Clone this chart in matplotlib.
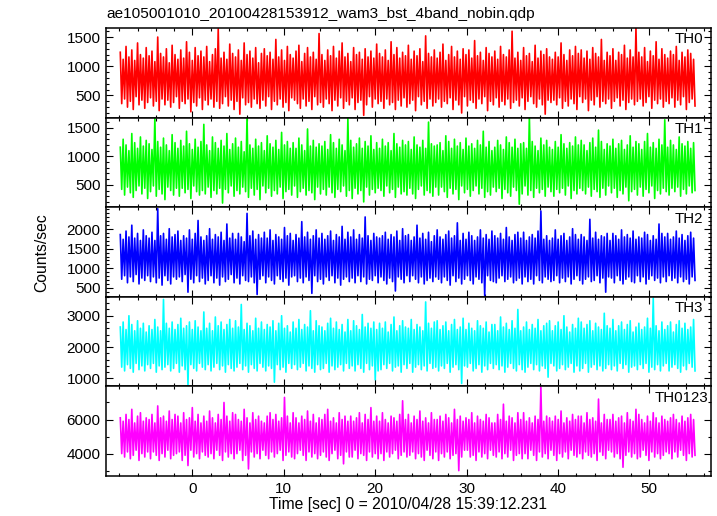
import matplotlib

matplotlib.use("Agg")

import matplotlib.pyplot as plt
import numpy as np
from matplotlib.ticker import MultipleLocator

TITLE = "ae105001010_20100428153912_wam3_bst_4band_nobin.qdp"
XLABEL = "Time [sec] 0 = 2010/04/28 15:39:12.231"
YLABEL = "Counts/sec"
T_START, T_END = -7.9, 55.0

# Light-curve samples, left to right (alternating
# upper / lower excursions of the dense trace). Stored as small integers;
# the unit (counts/sec per step) is given per band in `units`.
th0 = [
    62, 18, 56, 22, 67, 15, 58, 20, 64, 13, 55, 24, 70, 17, 60, 21, 57, 14, 66, 19,
    59, 23, 63, 16, 54, 20, 75, 12, 61, 22, 58, 17, 65, 21, 53, 15, 68, 19, 60, 24,
    56, 14, 64, 20, 57, 18, 71, 22, 62, 11, 55, 19, 66, 16, 59, 23, 63, 13, 58, 21,
    67, 17, 54, 22, 60, 15, 65, 20, 82, 14, 57, 18, 62, 24, 56, 16, 69, 21, 61, 13,
    58, 20, 64, 9, 55, 23, 70, 17, 60, 19, 63, 15, 57, 22, 66, 18, 53, 14, 61, 21,
    65, 16, 59, 24, 62, 13, 56, 20, 73, 17, 58, 22, 64, 15, 55, 19, 67, 12, 60, 23,
    57, 21, 63, 18, 68, 14, 54, 22, 61, 16, 66, 20, 58, 13, 62, 24, 56, 17, 78, 19,
    60, 15, 55, 22, 64, 18, 59, 12, 67, 21, 57, 16, 63, 23, 70, 14, 58, 20, 61, 17,
    54, 23, 66, 13, 60, 19, 62, 21, 56, 8, 65, 17, 58, 24, 63, 15, 57, 22, 69, 18,
    61, 20, 58, 14, 64, 22, 55, 17, 71, 19, 60, 13, 66, 21, 57, 16, 62, 23, 59, 15,
    68, 18, 56, 21, 63, 12, 59, 24, 65, 17, 54, 20, 76, 14, 61, 22, 58, 16, 64, 19,
    57, 22, 62, 15, 69, 20, 55, 18, 60, 23, 67, 13, 58, 21, 63, 17, 56, 10, 65, 24,
    60, 16, 64, 21, 57, 19, 72, 14, 59, 22, 62, 18, 55, 24, 66, 12, 61, 20, 58, 17,
    63, 23, 56, 15, 67, 20, 60, 17, 58, 22, 64, 14, 80, 19, 57, 21, 62, 16, 55, 23,
    66, 13, 59, 20, 61, 24, 54, 18, 68, 15, 57, 22, 63, 17, 60, 9, 65, 21, 58, 19,
    56, 21, 62, 17, 58, 23, 70, 14, 60, 20, 55, 16, 64, 22, 59, 18, 67, 13, 61, 24,
    64, 19, 57, 22, 63, 12, 56, 21, 66, 17, 61, 24, 58, 15, 73, 20, 55, 18, 62, 22,
    59, 14, 65, 20, 55, 23, 62, 16, 60, 21, 68, 13, 57, 19, 64, 22, 58, 17, 83, 20,
    62, 22, 58, 16, 66, 19, 54, 24, 63, 14, 59, 21, 71, 18, 56, 22, 65, 15, 60, 20,
    57, 18, 63, 23, 60, 15, 67, 21, 55, 17, 62, 24, 58, 13, 64, 19, 61, 22, 56, 16,
]
th1 = [
    58, 21, 65, 16, 60, 23, 55, 18, 70, 14, 62, 20, 57, 24, 67, 17, 59, 22, 64, 13,
    61, 19, 56, 24, 84, 15, 63, 21, 58, 17, 66, 12, 60, 23, 55, 20, 69, 16, 62, 22,
    57, 15, 64, 22, 59, 18, 72, 21, 61, 13, 56, 24, 65, 19, 58, 16, 63, 20, 78, 17,
    60, 23, 55, 14, 67, 20, 62, 17, 57, 22, 64, 9, 59, 21, 70, 18, 56, 24, 61, 15,
    66, 20, 58, 17, 63, 23, 54, 19, 85, 14, 60, 22, 57, 16, 65, 21, 59, 12, 62, 24,
    55, 18, 68, 22, 61, 15, 58, 20, 64, 17, 56, 23, 71, 13, 60, 19, 63, 21, 57, 16,
    62, 24, 57, 14, 66, 19, 60, 22, 55, 16, 74, 20, 59, 18, 64, 12, 58, 23, 61, 17,
    59, 21, 63, 16, 56, 23, 69, 18, 62, 14, 57, 21, 65, 19, 60, 24, 55, 15, 83, 20,
    64, 13, 58, 22, 61, 17, 66, 20, 57, 10, 63, 23, 59, 16, 68, 21, 56, 18, 62, 22,
    57, 20, 65, 15, 59, 24, 62, 18, 55, 21, 70, 14, 61, 23, 58, 17, 64, 19, 60, 16,
    63, 22, 56, 17, 67, 13, 60, 21, 58, 24, 64, 16, 57, 20, 80, 18, 61, 15, 59, 23,
    60, 16, 62, 23, 55, 19, 68, 14, 63, 22, 57, 17, 65, 21, 59, 12, 62, 24, 56, 18,
    66, 21, 59, 15, 61, 20, 57, 24, 64, 17, 60, 22, 72, 14, 58, 19, 63, 16, 55, 23,
    58, 19, 64, 22, 60, 13, 56, 21, 67, 18, 62, 15, 58, 23, 65, 20, 57, 8, 61, 17,
    62, 24, 57, 16, 85, 20, 63, 14, 59, 22, 55, 18, 66, 21, 60, 15, 64, 23, 58, 19,
    56, 15, 63, 21, 58, 18, 69, 22, 61, 16, 57, 24, 62, 13, 59, 20, 67, 17, 60, 22,
    64, 20, 60, 17, 55, 23, 62, 15, 66, 21, 58, 19, 73, 14, 63, 22, 56, 16, 61, 24,
    59, 18, 65, 22, 57, 14, 61, 20, 64, 17, 56, 23, 60, 11, 68, 19, 58, 21, 63, 16,
    61, 23, 56, 15, 63, 21, 70, 18, 58, 24, 62, 13, 57, 20, 65, 17, 60, 22, 82, 19,
    58, 16, 64, 22, 60, 19, 56, 23, 67, 15, 61, 21, 59, 17, 63, 24, 57, 18, 62, 20,
]
th2 = [
    62, 24, 58, 27, 65, 21, 60, 26, 70, 22, 59, 28, 63, 20, 57, 25, 66, 23, 61, 27,
    59, 22, 64, 26, 57, 21, 84, 25, 61, 19, 63, 27, 58, 23, 67, 20, 60, 26, 62, 24,
    65, 26, 57, 22, 61, 28, 59, 13, 66, 24, 58, 21, 63, 27, 74, 22, 60, 25, 57, 20,
    61, 23, 67, 27, 58, 21, 62, 25, 60, 19, 64, 26, 57, 22, 71, 24, 59, 28, 63, 21,
    58, 25, 63, 20, 60, 27, 56, 23, 80, 22, 61, 26, 65, 21, 58, 11, 62, 24, 59, 27,
    64, 21, 59, 26, 66, 23, 57, 20, 62, 27, 60, 24, 58, 22, 68, 25, 61, 19, 63, 26,
    57, 27, 62, 22, 59, 25, 73, 21, 60, 26, 64, 23, 58, 12, 61, 27, 66, 22, 59, 24,
    63, 20, 58, 26, 61, 23, 65, 27, 57, 21, 62, 25, 60, 19, 69, 24, 58, 26, 64, 22,
    60, 25, 66, 21, 58, 27, 62, 22, 59, 26, 77, 20, 61, 24, 57, 23, 63, 27, 60, 21,
    59, 26, 61, 23, 64, 20, 58, 25, 62, 22, 60, 14, 65, 26, 57, 24, 67, 21, 61, 27,
    62, 22, 57, 27, 60, 24, 70, 21, 59, 26, 63, 20, 58, 23, 64, 25, 56, 22, 61, 26,
    66, 24, 60, 21, 58, 26, 62, 23, 65, 19, 59, 27, 61, 22, 72, 25, 57, 20, 63, 24,
    58, 27, 64, 23, 61, 20, 57, 26, 60, 24, 66, 21, 59, 10, 62, 27, 58, 23, 65, 22,
    61, 21, 59, 25, 63, 27, 58, 22, 68, 24, 60, 26, 57, 21, 62, 23, 64, 25, 59, 20,
    64, 26, 57, 22, 60, 24, 62, 20, 59, 27, 65, 23, 82, 21, 58, 26, 61, 24, 57, 22,
    59, 23, 66, 27, 58, 21, 61, 25, 63, 22, 57, 26, 60, 20, 67, 24, 62, 27, 58, 23,
    62, 20, 60, 24, 57, 26, 75, 22, 59, 23, 64, 27, 58, 21, 61, 25, 60, 13, 63, 26,
    57, 25, 63, 21, 61, 27, 58, 23, 66, 20, 60, 24, 62, 26, 59, 22, 65, 21, 58, 27,
    60, 22, 59, 26, 64, 20, 62, 24, 57, 27, 61, 23, 58, 25, 71, 21, 63, 26, 60, 22,
    63, 27, 58, 23, 60, 25, 65, 21, 59, 26, 62, 22, 57, 24, 61, 20, 64, 26, 59, 23,
]
th3 = [
    66, 34, 70, 31, 64, 36, 75, 33, 68, 30, 63, 37, 71, 32, 65, 35, 69, 31, 62, 36,
    67, 33, 64, 37, 72, 30, 66, 35, 63, 32, 88, 34, 69, 36, 65, 31, 70, 33, 64, 37,
    68, 30, 73, 35, 65, 32, 67, 20, 70, 36, 64, 33, 71, 31, 66, 37, 63, 34, 78, 32,
    65, 36, 69, 31, 63, 34, 74, 37, 67, 32, 70, 35, 64, 30, 68, 36, 72, 33, 65, 31,
    71, 34, 66, 37, 84, 32, 64, 35, 69, 30, 67, 36, 63, 33, 73, 31, 65, 37, 70, 34,
    64, 31, 68, 35, 66, 33, 71, 22, 63, 36, 69, 32, 75, 34, 65, 30, 67, 37, 62, 33,
    70, 36, 65, 32, 72, 34, 64, 37, 68, 31, 66, 35, 79, 33, 63, 30, 71, 36, 67, 32,
    66, 33, 63, 37, 69, 30, 73, 35, 65, 32, 70, 34, 64, 36, 68, 31, 62, 37, 72, 33,
    63, 35, 71, 31, 67, 36, 64, 33, 76, 30, 66, 37, 69, 32, 65, 35, 70, 24, 64, 31,
    69, 32, 65, 36, 70, 33, 62, 37, 68, 31, 74, 34, 63, 35, 67, 30, 71, 36, 66, 33,
    65, 37, 72, 30, 64, 34, 68, 36, 66, 32, 63, 35, 86, 31, 69, 37, 65, 33, 70, 34,
    71, 31, 64, 35, 67, 33, 70, 37, 63, 30, 68, 34, 72, 36, 64, 32, 66, 21, 73, 35,
    64, 34, 69, 37, 65, 31, 63, 33, 71, 36, 67, 30, 65, 35, 70, 32, 62, 37, 68, 33,
    68, 36, 63, 32, 74, 35, 66, 30, 69, 34, 64, 37, 71, 33, 65, 31, 80, 36, 63, 32,
    66, 30, 70, 34, 64, 37, 68, 32, 65, 36, 72, 31, 63, 35, 67, 33, 69, 26, 71, 37,
    63, 35, 67, 31, 70, 33, 64, 36, 75, 32, 66, 34, 62, 37, 68, 30, 65, 35, 73, 31,
    70, 33, 65, 37, 68, 30, 71, 34, 63, 36, 69, 32, 66, 35, 64, 31, 77, 33, 67, 36,
    65, 32, 72, 35, 63, 31, 67, 37, 70, 33, 64, 36, 68, 30, 71, 34, 62, 35, 66, 32,
    69, 36, 64, 33, 66, 37, 73, 30, 65, 34, 89, 32, 67, 36, 63, 31, 70, 35, 64, 37,
    67, 31, 70, 34, 62, 36, 68, 33, 71, 30, 65, 35, 69, 32, 64, 37, 66, 34, 72, 31,
]
th0123 = [
    61, 40, 59, 38, 63, 41, 60, 37, 66, 39, 58, 42, 62, 36, 64, 40, 59, 38, 61, 41,
    60, 37, 63, 41, 58, 39, 68, 36, 61, 40, 62, 38, 59, 42, 65, 37, 60, 39, 63, 40,
    62, 41, 58, 36, 64, 39, 60, 33, 61, 42, 67, 38, 59, 40, 63, 37, 58, 41, 62, 39,
    59, 38, 65, 40, 61, 37, 58, 42, 63, 39, 60, 36, 70, 41, 62, 38, 59, 40, 64, 37,
    63, 40, 60, 42, 59, 36, 66, 39, 61, 31, 58, 41, 64, 38, 60, 40, 62, 37, 59, 42,
    58, 39, 62, 37, 64, 41, 60, 38, 63, 40, 59, 42, 61, 36, 73, 39, 62, 41, 58, 38,
    64, 37, 61, 40, 58, 42, 62, 39, 60, 36, 65, 41, 59, 38, 63, 40, 58, 37, 61, 39,
    60, 41, 63, 38, 66, 36, 59, 40, 61, 42, 58, 37, 64, 39, 60, 34, 62, 41, 59, 38,
    62, 38, 59, 42, 61, 37, 64, 40, 58, 39, 63, 36, 60, 41, 67, 38, 59, 40, 62, 37,
    59, 40, 64, 36, 60, 41, 58, 38, 62, 40, 61, 42, 59, 37, 63, 39, 71, 41, 60, 38,
    63, 39, 58, 41, 62, 37, 60, 40, 65, 38, 59, 36, 61, 42, 58, 39, 64, 37, 60, 41,
    60, 36, 62, 40, 59, 38, 63, 41, 61, 37, 58, 39, 66, 40, 60, 30, 62, 38, 59, 42,
    61, 42, 60, 38, 64, 39, 58, 36, 62, 41, 60, 38, 59, 40, 63, 37, 61, 42, 58, 39,
    58, 38, 63, 41, 60, 37, 69, 40, 59, 38, 62, 42, 61, 36, 58, 39, 64, 40, 60, 37,
    64, 40, 59, 37, 61, 42, 58, 39, 62, 36, 60, 41, 79, 38, 59, 40, 62, 37, 61, 42,
    59, 39, 62, 36, 60, 40, 65, 38, 58, 41, 61, 37, 59, 42, 63, 39, 60, 38, 62, 40,
    62, 37, 58, 41, 64, 39, 60, 38, 61, 40, 59, 36, 72, 41, 58, 39, 63, 37, 60, 42,
    60, 41, 63, 38, 59, 40, 61, 37, 62, 32, 58, 39, 64, 41, 60, 38, 59, 40, 66, 37,
    63, 38, 60, 42, 58, 39, 62, 36, 59, 41, 64, 38, 61, 40, 58, 37, 62, 39, 60, 41,
    59, 40, 61, 37, 63, 41, 60, 38, 58, 42, 62, 39, 59, 36, 61, 40, 63, 38, 60, 39,
]

bands = ["TH0", "TH1", "TH2", "TH3", "TH0123"]
series = [th0, th1, th2, th3, th0123]
units = [20, 20, 30, 40, 100]  # counts/sec per integer step of each list
colors = ["#ff0000", "#00ff00", "#0000ff", "#00ffff", "#ff00ff"]
ylims = [(121, 1655), (107, 1679), (272, 2558), (746, 3603), (2686, 7943)]
yticks = [
    [500, 1000, 1500],
    [500, 1000, 1500],
    [500, 1000, 1500, 2000],
    [1000, 2000, 3000],
    [4000, 6000],
]
yminor = [100, 100, 100, 200, 1000]
label_x = [0.988, 0.988, 0.988, 0.988, 0.997]

plt.rcParams["font.family"] = ["Liberation Sans", "DejaVu Sans"]

fig, axes = plt.subplots(5, 1, sharex=True, figsize=(7.17, 5.16), dpi=100)
fig.subplots_adjust(left=0.148, right=0.991, top=0.9457, bottom=0.0775, hspace=0)

for ax, name, vals, unit, col, ylim, yt, ym, lx in zip(
    axes, bands, series, units, colors, ylims, yticks, yminor, label_x
):
    rate = np.asarray(vals, dtype=float) * unit
    t = np.linspace(T_START, T_END, len(rate))
    ax.plot(t, rate, color=col, linewidth=1.2)
    ax.set_ylim(*ylim)
    ax.set_yticks(yt)
    ax.yaxis.set_minor_locator(MultipleLocator(ym))
    ax.xaxis.set_major_locator(MultipleLocator(10))
    ax.xaxis.set_minor_locator(MultipleLocator(2))
    ax.tick_params(which="both", direction="in", top=True, right=True,
                   labelsize=11, width=0.8, pad=4)
    ax.tick_params(which="major", length=5)
    ax.tick_params(which="minor", length=2.5)
    for sp in ax.spines.values():
        sp.set_linewidth(1.1)
    ax.text(lx, 0.95, name, transform=ax.transAxes, ha="right", va="top", fontsize=10.8)

axes[-1].set_xlim(-9.45, 56.7)
axes[-1].set_xlabel(XLABEL, fontsize=11.3, labelpad=1)
fig.text(0.058, 0.51, YLABEL, rotation=90, ha="center", va="center", fontsize=11.3)
fig.text(0.149, 0.96, TITLE, ha="left", va="bottom", fontsize=11.1)

fig.savefig("out.png", dpi=100)
